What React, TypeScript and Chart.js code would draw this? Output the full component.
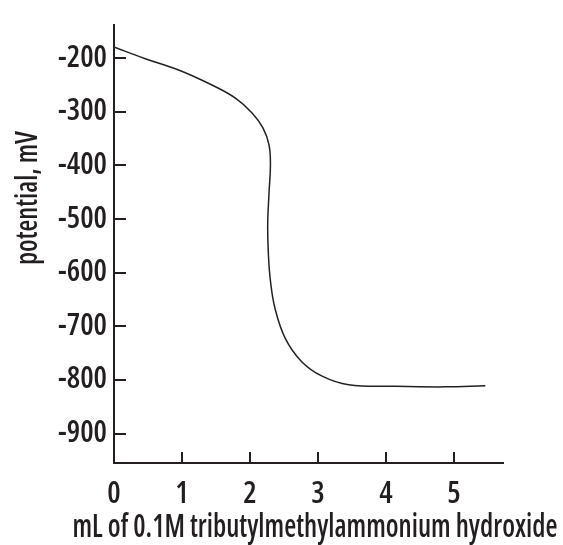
import React, { useEffect, useRef } from "react";
import { Chart, registerables } from "chart.js";

Chart.register(...registerables);

// Titration curve: volume of titrant (mL) vs. potential (mV)
const volumeML = [
  0, 0.46, 0.95, 1.44, 1.78, 2.03, 2.19, 2.28, 2.3, 2.28, 2.26, 2.27, 2.3, 2.37, 2.52, 2.76,
  3.06, 3.45, 4.14, 4.87, 5.46,
];
const potentialMV = [
  -179, -201, -222, -250, -274, -302, -330, -362, -400, -450, -510, -565, -615, -668, -723, -766,
  -793, -809, -812, -813, -811,
];
const xTickValues = [0, 1, 2, 3, 4, 5];
const yTickValues = [-200, -300, -400, -500, -600, -700, -800, -900];
const xRange = [0, 5.72];
const yRange = [-955, -138];
const xAxisTitle = "mL of 0.1M tributylmethylammonium hydroxide";
const yAxisTitle = "potential, mV";

const FONT = '"Open Sans", Roboto, sans-serif';
const WEIGHT = "600 condensed";
const INK = "#231f20";

const axisExtras = {
  id: "axisExtras",
  afterDatasetsDraw(chart: any) {
    const { ctx, chartArea, scales } = chart;
    ctx.save();
    ctx.strokeStyle = INK;
    ctx.lineWidth = 2;
    ctx.beginPath();
    for (const t of scales.y.ticks) {
      const py = Math.round(scales.y.getPixelForValue(t.value));
      ctx.moveTo(chartArea.left, py);
      ctx.lineTo(chartArea.left + 12, py);
    }
    for (const t of scales.x.ticks) {
      if (t.value === 0) continue;
      const px = Math.round(scales.x.getPixelForValue(t.value));
      ctx.moveTo(px, chartArea.bottom);
      ctx.lineTo(px, chartArea.bottom - 11);
    }
    ctx.stroke();
    ctx.restore();
  },
  afterDraw(chart: any) {
    const { ctx, chartArea } = chart;
    ctx.save();
    ctx.fillStyle = INK;
    ctx.textAlign = "center";
    ctx.textBaseline = "middle";
    // x-axis title
    ctx.font = `${WEIGHT} 32px ${FONT}`;
    ctx.fillText(xAxisTitle, chartArea.left + 201, chartArea.bottom + 65, 485);
    // y-axis title
    ctx.font = `${WEIGHT} 30px ${FONT}`;
    ctx.translate(chartArea.left - 86, chartArea.top + 173);
    ctx.rotate(-Math.PI / 2);
    ctx.fillText(yAxisTitle, 0, 0, 134);
    ctx.restore();
  },
};

export default function App() {
  const ref = useRef<HTMLCanvasElement | null>(null);
  useEffect(() => {
    if (!ref.current) return;
    const points = volumeML.map((x, i) => ({ x, y: potentialMV[i] }));
    const chart = new Chart(ref.current, {
      type: "line",
      data: {
        datasets: [
          {
            data: points,
            borderColor: "#222222",
            borderWidth: 1.5,
            pointRadius: 0,
            tension: 0.4,
            fill: false,
          },
        ],
      },
      options: {
        animation: false,
        responsive: true,
        maintainAspectRatio: false,
        layout: { padding: { left: 0, top: 17, right: 60, bottom: 0 } },
        plugins: { legend: { display: false }, tooltip: { enabled: false } },
        scales: {
          x: {
            type: "linear",
            min: xRange[0],
            max: xRange[1],
            afterBuildTicks: (s: any) => {
              s.ticks = xTickValues.map((v) => ({ value: v }));
            },
            afterFit: (s: any) => {
              s.height = 82;
            },
            grid: { display: true, drawOnChartArea: false, drawTicks: false },
            border: { display: true, color: INK, width: 2 },
            ticks: {
              color: INK,
              font: { family: FONT, size: 30, weight: WEIGHT as any },
              padding: 13,
              maxRotation: 0,
            },
          },
          y: {
            type: "linear",
            min: yRange[0],
            max: yRange[1],
            afterBuildTicks: (s: any) => {
              s.ticks = yTickValues.map((v) => ({ value: v }));
            },
            afterFit: (s: any) => {
              s.width = 114;
            },
            grid: { display: true, drawOnChartArea: false, drawTicks: false },
            border: { display: true, color: INK, width: 2 },
            ticks: {
              color: INK,
              font: { family: FONT, size: 30, weight: WEIGHT as any },
              padding: 7,
            },
          },
        },
      },
      plugins: [axisExtras],
    });
    return () => chart.destroy();
  }, []);
  return (
    <div style={{ position: "absolute", left: 0, top: 0, width: 563, height: 545, background: "#fff" }}>
      <canvas ref={ref} />
    </div>
  );
}
